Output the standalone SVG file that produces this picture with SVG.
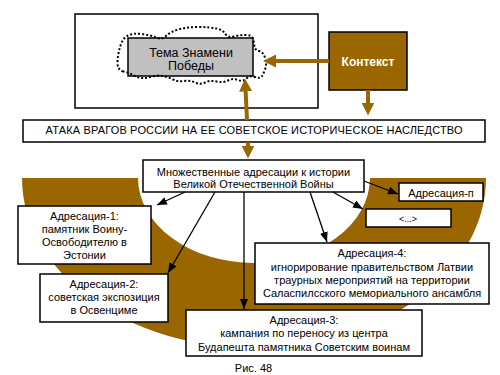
<svg xmlns="http://www.w3.org/2000/svg" width="500" height="375" viewBox="0 0 500 375">
<defs>
<style>
.box{fill:#fff;stroke:#000;stroke-width:1.5}
.t{font-family:"Liberation Sans",Arial,sans-serif;font-size:11px;fill:#000;text-anchor:middle}
.bl{stroke:#000;stroke-width:1.3;fill:none;marker-end:url(#ah)}
.br{stroke:#996600;stroke-width:4;fill:none;marker-end:url(#bh)}
</style>
<marker id="ah" markerUnits="userSpaceOnUse" markerWidth="10" markerHeight="8" refX="10" refY="4" orient="auto">
<path d="M0,0 L10,4 L0,8 Z" fill="#000"/>
</marker>
<marker id="bh" markerUnits="userSpaceOnUse" markerWidth="13" markerHeight="13" refX="0.5" refY="6.5" orient="auto">
<path d="M0,0 L13,6.5 L0,13 Z" fill="#996600"/>
</marker>
</defs>
<rect width="500" height="375" fill="#fff"/>
<path id="ring" d="M22,178 A232,170 0 0 0 486,178 L370,178 A116,85 0 0 1 138,178 Z" fill="#996600"/>
<rect id="frame" x="75" y="14" width="243" height="94" class="box"/>
<g id="theme">
<rect x="128" y="38" width="125" height="38" fill="#c0c0c0" stroke="#000" stroke-width="1.5"/>
<text class="t" x="191" y="56.5" style="font-size:12.5px">Тема Знамени</text>
<text class="t" x="191" y="69.5" style="font-size:12.5px">Победы</text>
<path d="M123.5,71.5 Q117,70 117.5,61.5 Q118,53 120.5,45.5 Q123,38 128,35.5 Q133,33 141.5,34 Q150,35 156,37.5 Q162,40 166,36 Q170,32 178.5,29.5 Q187,27 198.5,27 Q210,27 216.5,28.5 Q223,30 225.5,34 Q228,38 234,36.5 Q240,35 246,35 Q252,35 253,39 Q254,43 254.5,46.5 Q255,50 259,51 Q263,52 265,57.5 Q267,63 265.5,68 Q264,73 262,76 Q260,79 255,77 Q250,75 246.5,78.5 Q243,82 238,80 Q233,78 228,80.5 Q223,83 216.5,81.5 Q210,80 205,82.5 Q200,85 195,82.5 Q190,80 184,81 Q178,82 173,79.5 Q168,77 163,76 Q158,75 152.5,76.5 Q147,78 142.5,78 Q138,78 134,75.5 Q130,73 123.5,71.5 Z" fill="none" stroke="#000" stroke-width="2" stroke-dasharray="2 2"/>
</g>
<g id="context">
<rect x="329" y="32" width="78" height="58" fill="#996600" stroke="#000" stroke-width="1.5"/>
<text class="t" x="368" y="65.5" style="font-size:12px;font-weight:bold;fill:#fff">Контекст</text>
</g>
<g id="attack">
<rect x="23" y="120" width="462" height="22" class="box"/>
<text class="t" x="254" y="134" textLength="417" lengthAdjust="spacing">АТАКА ВРАГОВ РОССИИ НА ЕЕ СОВЕТСКОЕ ИСТОРИЧЕСКОЕ НАСЛЕДСТВО</text>
</g>
<g id="multi">
<rect x="143" y="160" width="221" height="32" class="box"/>
<text class="t" x="253.5" y="175.5">Множественные адресации к истории</text>
<text class="t" x="253.5" y="187.5">Великой Отечественной Войны</text>
</g>
<g id="a1">
<rect x="18" y="206" width="133" height="58" class="box"/>
<text class="t" x="84.5" y="220">Адресация-1:</text>
<text class="t" x="84.5" y="233">памятник Воину-</text>
<text class="t" x="84.5" y="246">Освободителю в</text>
<text class="t" x="84.5" y="259">Эстонии</text>
</g>
<g id="a2">
<rect x="40" y="274" width="128" height="48" class="box"/>
<text class="t" x="104" y="288">Адресация-2:</text>
<text class="t" x="104" y="301">советская экспозиция</text>
<text class="t" x="104" y="314">в Освенциме</text>
</g>
<g id="a3">
<rect x="186" y="310" width="236" height="46" class="box"/>
<text class="t" x="304" y="324">Адресация-3:</text>
<text class="t" x="304" y="337">кампания по переносу из центра</text>
<text class="t" x="304" y="351">Будапешта памятника Советским воинам</text>
</g>
<g id="a4">
<rect x="255" y="243" width="234" height="61" class="box"/>
<text class="t" x="372" y="257">Адресация-4:</text>
<text class="t" x="372" y="271">игнорирование правительством Латвии</text>
<text class="t" x="372" y="284">траурных мероприятий на территории</text>
<text class="t" x="372" y="297">Саласпилсского мемориального ансамбля</text>
</g>
<g id="an">
<rect x="399" y="183" width="84" height="18" class="box"/>
<text class="t" x="441" y="196.5">Адресация-п</text>
</g>
<g id="adots">
<rect x="366" y="209" width="85" height="18" class="box"/>
<text class="t" x="408" y="221.5" style="font-size:9px">&lt;...&gt;</text>
</g>
<text id="caption" class="t" x="253.5" y="372">Рис. 48</text>
<g id="connectors">
<line class="br" x1="329" y1="61" x2="275.5" y2="61"/>
<line class="br" x1="368" y1="90" x2="368" y2="103"/>
<line class="br" x1="247" y1="120" x2="245.6" y2="91"/>
<line class="br" x1="248" y1="142" x2="248" y2="146"/>
<line class="bl" x1="185" y1="192" x2="157" y2="205"/>
<line class="bl" x1="215" y1="192" x2="168" y2="273"/>
<line class="bl" x1="244" y1="192" x2="244" y2="309"/>
<line class="bl" x1="310" y1="192" x2="327" y2="242"/>
<line class="bl" x1="333" y1="192" x2="363" y2="209"/>
<line class="bl" x1="364" y1="181" x2="398" y2="194"/>
</g>
</svg>
